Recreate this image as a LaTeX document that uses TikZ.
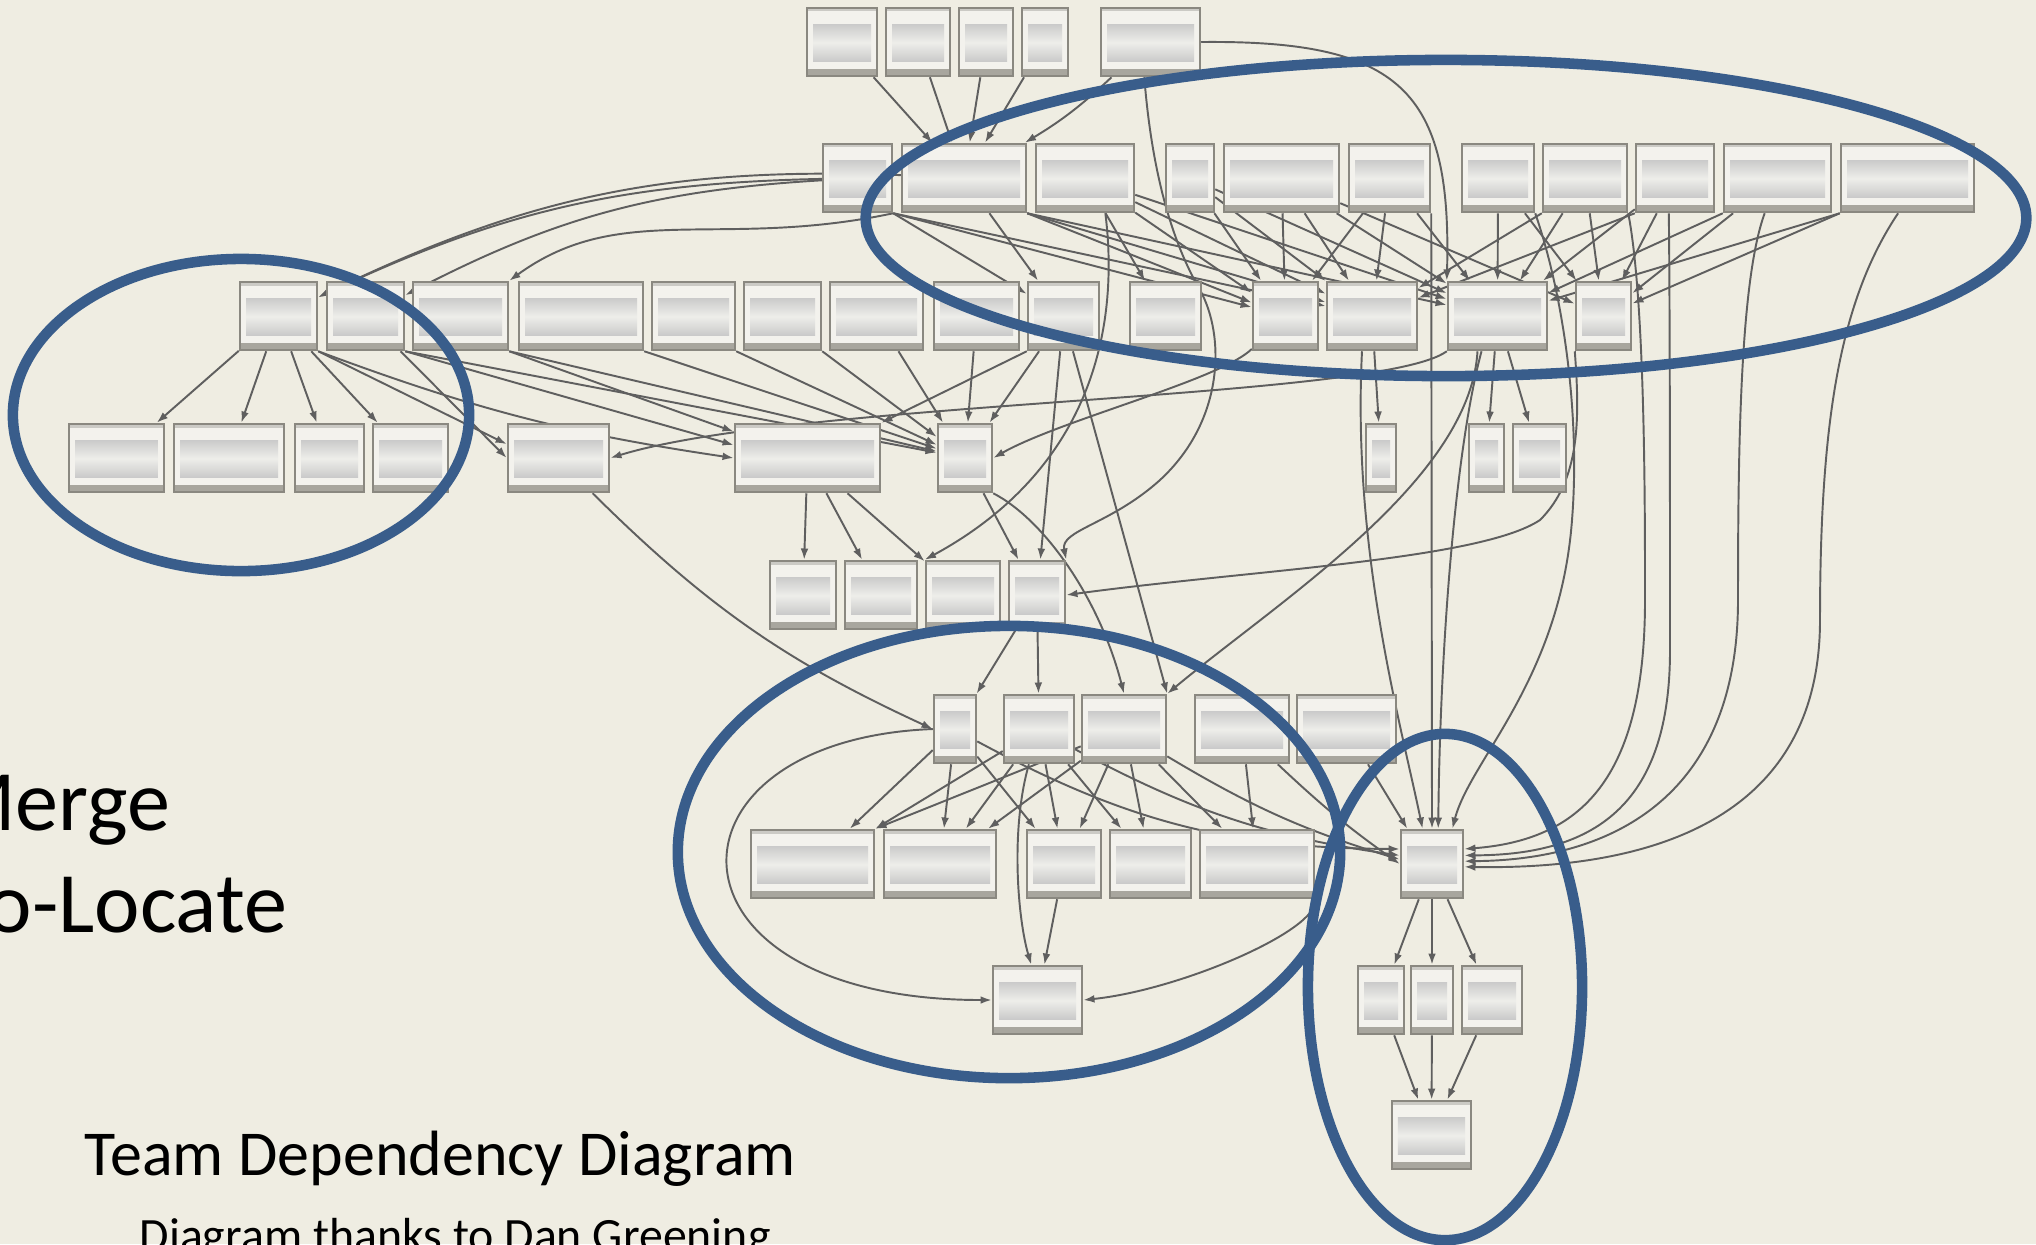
\documentclass[tikz,border=0pt]{standalone}
\usepackage{fontspec}
\setmainfont{Carlito}
\usetikzlibrary{arrows.meta}

\definecolor{paper}{RGB}{239,237,226}
\definecolor{boxfill}{RGB}{243,242,237}
\definecolor{boxline}{RGB}{138,136,128}
\definecolor{boxshade}{RGB}{168,166,158}
\definecolor{barshade}{RGB}{202,202,202}
\definecolor{barlight}{RGB}{238,238,234}
\definecolor{depline}{RGB}{95,95,95}
\definecolor{zoneblue}{RGB}{57,93,139}

\pgfdeclarelayer{paperlayer}
\pgfdeclarelayer{edges}
\pgfsetlayers{paperlayer,edges,main}

\begin{document}
\begin{tikzpicture}[x=0.01cm, y=-0.01cm,
    team/.style={draw=boxline, line width=0.7pt, fill=boxfill, inner sep=0pt,
      minimum height=0.68cm,
      path picture={
        \fill[boxshade] (path picture bounding box.south west) rectangle ([yshift=0.07cm]path picture bounding box.south east);
        \fill[boxshade!60] (path picture bounding box.north west) rectangle ([yshift=-0.035cm]path picture bounding box.north east);
        \shade[top color=barshade, bottom color=barshade, middle color=barlight]
          ([shift={(0.06cm,-0.16cm)}]path picture bounding box.north west) rectangle
          ([shift={(-0.06cm,0.15cm)}]path picture bounding box.south east);
      }},
    dep/.style={draw=depline, line width=0.55pt, -{Latex[length=3.2pt,width=2.2pt]}},
    zone/.style={draw=zoneblue, line width=3pt},
    slidetext/.style={inner sep=0pt, text=black}
  ]
  \useasboundingbox (0,0) rectangle (2036,1244);
  \begin{pgfonlayer}{paperlayer}
    \fill[paper] (0,0) rectangle (2036,1244);
  \end{pgfonlayer}

  % team boxes, one row at a time (left/right edge)
  \foreach \n/\l/\r in {t1/807/877, t2/886/950, t3/959/1013, t4/1022/1068, t5/1101/1200}
    \node[team, minimum width={(\r-\l)*0.01cm}] (\n) at ({(\l+\r)/2},42) {};
  \foreach \n/\l/\r in {u1/823/892, u2/902/1026, u3/1036/1134, u4/1166/1214, u5/1224/1339,
      u6/1349/1430, u7/1462/1534, u8/1543/1627, u9/1636/1714, u10/1724/1831, u11/1841/1974}
    \node[team, minimum width={(\r-\l)*0.01cm}] (\n) at ({(\l+\r)/2},178) {};
  \foreach \n/\l/\r in {v1/240/317, v2/327/404, v3/413/508, v4/519/643, v5/652/735, v6/744/821,
      v7/830/923, v8/934/1019, v9/1028/1099, v10/1130/1201, v11/1253/1318, v12/1327/1417,
      v13/1448/1547, v14/1576/1631}
    \node[team, minimum width={(\r-\l)*0.01cm}] (\n) at ({(\l+\r)/2},316) {};
  \foreach \n/\l/\r in {w1/69/164, w2/174/284, w3/295/364, w4/373/448, w5/508/609, w6/735/880,
      w7/938/992, w8/1366/1396, w9/1469/1504, w10/1513/1566}
    \node[team, minimum width={(\r-\l)*0.01cm}] (\n) at ({(\l+\r)/2},458) {};
  \foreach \n/\l/\r in {x1/770/836, x2/845/917, x3/926/1000, x4/1009/1065}
    \node[team, minimum width={(\r-\l)*0.01cm}] (\n) at ({(\l+\r)/2},595) {};
  \foreach \n/\l/\r in {y1/934/976, y2/1004/1074, y3/1082/1166, y4/1195/1289, y5/1297/1396}
    \node[team, minimum width={(\r-\l)*0.01cm}] (\n) at ({(\l+\r)/2},729) {};
  \foreach \n/\l/\r in {z1/751/874, z2/884/996, z3/1027/1101, z4/1110/1191, z5/1200/1314, hub/1401/1463}
    \node[team, minimum width={(\r-\l)*0.01cm}] (\n) at ({(\l+\r)/2},864) {};
  \foreach \n/\l/\r in {a1/993/1082, b1/1358/1404, b2/1411/1453, b3/1462/1522}
    \node[team, minimum width={(\r-\l)*0.01cm}] (\n) at ({(\l+\r)/2},1000) {};
  \node[team, minimum width=0.79cm] (c1) at (1431.5,1135) {};

  \begin{pgfonlayer}{edges}
    % straight dependencies
    \foreach \a/\b in {t1/u2, t2/u2, t3/u2, t4/u2,
        u1.south east/v9, u2/v9, u3/v10, u3/v11, u1.south east/v11, u1.south east/v12,
        u2.south east/v11, u2.south east/v12, u2.south east/v13, u3/v12, u3/v13,
        u4/v11, u4/v12, u4/v13, u5/v11, u5/v12, u5/v13, u5/v14,
        u6/v11, u6/v12, u6/v13, u7/v13, u7/v14, u8.south west/v12, u8/v13, u8/v14,
        u9.south west/v12, u9/v13, u9/v14, u10.south west/v13, u10/v14,
        u11.south west/v13, u11.south west/v14,
        v1/w1, v1/w2, v1/w3, v1/w4, v1.south east/w5.165, v2/w5.west, v2.south east/w6.170,
        v2.south east/w7, v3.south east/w7, v3.south east/w6, v4.south east/w7,
        v5.south east/w7, v6.south east/w7, v7/w7, v8/w7, v9/w7, v9.south west/w6.north east,
        v12/w8, v13/w9, v13/w10, u6.south east/hub.north,
        w6/x1, w6/x2, w6/x3, w7/x4, v9/x4, v9.-75/y3.north east,
        x4/y1, x4/y2,
        y1/z1, y1/z2, y1/z3, y2/z1.north east, y2/z2, y2/z3, y2/z4,
        y3/z1.north east, y3/z2, y3/z3, y3/z4, y3/z5, y4/z5, z3/a1,
        y5/hub.125, hub/b1, hub/b2, hub/b3, b1/c1, b2/c1, b3/c1}
      \draw[dep] (\a) -- (\b);
    % gently bent dependencies
    \foreach \a/\b/\k in {u1/v1/-12, u1/v2/-12, u2/v1/-14, t5/u2/6,
        v1.south east/w6.west/-6, w5/y1.west/-10,
        y1/hub.155/-14, y2/hub.165/-10, y3/hub.172/-7, y4/hub.180/-4}
      \draw[dep] (\a) to[bend left=\k] (\b);
    % long routed dependencies
    \draw[dep] (u1.south east) .. controls (720,250) and (620,200) .. (v3.north east);
    \draw[dep] (t5.east) .. controls (1400,40) and (1452,90) .. (v13.north west);
    \draw[dep] (t5.-100) .. controls (1150,150) and (1165,230) .. (1200,290)
      .. controls (1225,335) and (1225,420) .. (1160,480)
      .. controls (1110,525) and (1060,530) .. (x4.north east);
    \draw[dep] (u3.-60) .. controls (1120,330) and (1090,470) .. (x3.north west);
    \draw[dep] (v13.south west) .. controls (1380,400) and (800,400) .. (w5.east);
    \draw[dep] (v11) .. controls (1220,380) and (1060,420) .. (w7.east);
    \draw[dep] ([xshift=-0.2cm]v13.south) .. controls (1470,480) and (1280,600) .. (y3.north east);
    \draw[dep] (v14.south west) .. controls (1580,420) and (1580,480) .. (1540,520)
      .. controls (1480,560) and (1250,570) .. (x4.east);
    \draw[dep] (w7.south east) .. controls (1045,520) and (1100,600) .. (y3.north);
    \draw[dep] ([xshift=-0.1cm]v12.south) .. controls (1352,550) and (1400,720) .. (hub.105);
    \draw[dep] ([xshift=-0.16cm]v13.south) .. controls (1455,450) and (1440,650) .. (hub.80);
    \draw[dep] (u7.south east) .. controls (1565,300) and (1580,420) .. (1572,520)
      .. controls (1560,680) and (1470,760) .. (hub.60);
    \draw[dep] (u8.south east) .. controls (1645,300) and (1645,500) .. (1645,600)
      .. controls (1645,780) and (1580,840) .. (hub.25);
    \draw[dep] (u9.-100) .. controls (1670,300) and (1670,550) .. (1670,650)
      .. controls (1670,800) and (1600,855) .. (hub.15);
    \draw[dep] (u10.-110) .. controls (1740,280) and (1738,450) .. (1738,600)
      .. controls (1738,790) and (1620,860) .. (hub.5);
    \draw[dep] (u11.-105) .. controls (1840,300) and (1820,420) .. (1820,620)
      .. controls (1820,820) and (1650,870) .. (hub.-5);
    \draw[dep] (y1.west) .. controls (650,740) and (650,1000) .. (a1.west);
    \draw[dep] (y2) .. controls (1010,830) and (1018,920) .. (a1.100);
    \draw[dep] (z5.south east) .. controls (1320,930) and (1180,990) .. (a1.east);
  \end{pgfonlayer}

  % co-location zones
  \draw[zone] (1446,218) ellipse [x radius=5.80cm, y radius=1.58cm];
  \draw[zone] (241,415) ellipse [x radius=2.28cm, y radius=1.56cm];
  \draw[zone] (1009,852) ellipse [x radius=3.31cm, y radius=2.26cm];
  \draw[zone] (1445,987) ellipse [x radius=1.37cm, y radius=2.53cm];

  % slide text (cut by the page edge as on the slide)
  \node[slidetext, anchor=base east, font=\fontsize{24.5}{29}\selectfont] (merge) at (171,830) {Merge};
  \node[slidetext, anchor=base east, font=\fontsize{24.5}{29}\selectfont] (colocate) at (288,932) {Co-Locate};
  \node[slidetext, anchor=base west, font=\fontsize{18.2}{22}\selectfont] (title) at (84,1175) {Team Dependency Diagram};
  \node[slidetext, anchor=base west, font=\fontsize{13.6}{16}\selectfont] (credit) at (139,1251) {Diagram thanks to Dan Greening};
\end{tikzpicture}
\end{document}
